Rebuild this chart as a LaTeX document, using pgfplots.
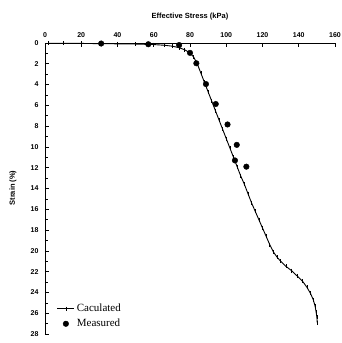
\documentclass[border=0pt]{standalone}
\usepackage{pgfplots}
\pgfplotsset{compat=1.18}
\usepackage{fontspec}
\setmainfont{Liberation Serif}
\setsansfont{Liberation Sans}
\begin{document}
\begin{tikzpicture}
\begin{axis}[
  at={(0,0)}, anchor=south west,
  scale only axis, width=290pt, height=291pt,
  xmin=0, xmax=160, ymin=0, ymax=28, y dir=reverse,
  axis x line=top, axis y line=left,
  axis line style={-, line width=0.8pt},
  tick align=inside,
  major tick length=4pt, minor tick length=2.5pt,
  xtick={0,20,...,160}, ytick={0,2,...,28},
  minor y tick num=1,
  tick style={line width=0.6pt, black},
  /pgf/number format/assume math mode=true,
  tick label style={font=\sffamily\bfseries\fontsize{7}{8}\selectfont},
  xticklabel style={yshift=2pt},
  yticklabel style={xshift=-3pt},
  legend style={draw=none, fill=none, at={(0.03,0.005)}, anchor=south west,
    font=\fontsize{11}{13}\selectfont, row sep=2pt},
  legend cell align=left,
  clip=false,
]
\addplot[black, line width=0.9pt, mark=|, mark size=2pt, mark options={line width=0.6pt}] coordinates {
(2,0.02)(10,0.03)(20,0.04)(30,0.06)(40,0.08)(50,0.1)(60,0.15)(66,0.22)(70,0.3)(74,0.45)(77,0.65)(80,0.95)(82,1.35)(84,2.0)(86,2.9)(88,3.8)(90,4.7)(92,5.6)(94,6.5)(96,7.4)(98,8.3)(100,9.2)(102,10.1)(104,11.0)(106,11.9)(108,12.8)(110,13.6)(112,14.5)(114,15.4)(116,16.2)(118,17.0)(120,17.8)(122,18.6)(124,19.4)(126,20.1)(128,20.6)(130,21.0)(133,21.5)(136,21.9)(139,22.4)(142,22.9)(144.5,23.5)(146.5,24.1)(148,24.7)(149,25.3)(149.6,25.9)(150,26.4)(150.2,26.9)
};
\addlegendentry{Caculated}
\addplot[only marks, mark=*, mark size=2.8pt, black] coordinates {
(31,0.05)(57,0.12)(74,0.2)(80,0.95)(83.5,1.95)(88.8,3.95)(94.2,5.87)(100.7,7.84)(105.8,9.8)(104.8,11.3)(111.1,11.9)
};
\addlegendentry{Measured}
\end{axis}
\node[font=\sffamily\bfseries\fontsize{7.5}{9}\selectfont] at (145pt,317pt) {Effective Stress (kPa)};
\node[font=\sffamily\bfseries\fontsize{7.5}{9}\selectfont, rotate=90] at (-32pt,146pt) {Strain (\%)};
\pgfresetboundingbox
\useasboundingbox (-45pt,-9pt) rectangle (297pt,334pt);
\end{tikzpicture}
\end{document}
